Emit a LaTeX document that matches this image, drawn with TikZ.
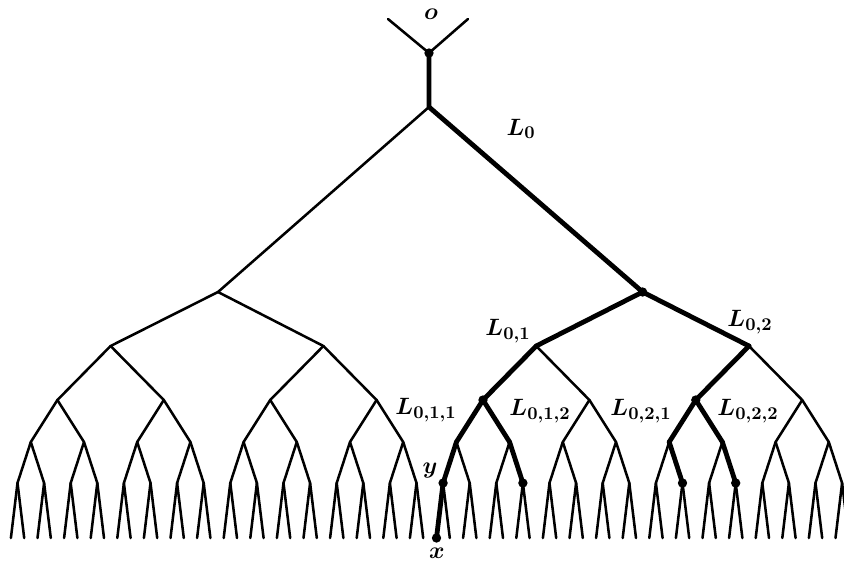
\documentclass[tikz,border=0pt]{standalone}
\usepackage{bm}
\newcommand{\lbl}[1]{\scalebox{1.23}{$\bm{#1}$}}
\begin{document}
\begin{tikzpicture}[x=0.75pt,y=-0.75pt,
  edge/.style={line width=1.9pt, line cap=round, line join=round},
  heavy/.style={line width=3.6pt, line cap=round, line join=round},
  dot/.style={circle, fill=black, inner sep=0pt, minimum size=7pt},
  lab/.style={font=\fontsize{15}{18}\selectfont, inner sep=0pt}]
\useasboundingbox (0,0) rectangle (844,561);
\clip (0,0) rectangle (844,561);
% positions
\coordinate (o) at (429,53);
\coordinate (a1) at (388,19);
\coordinate (a2) at (468,19);
\coordinate (n0-0) at (429,107);
\coordinate (n1-0) at (218,292);
\coordinate (n1-1) at (642.6,292);
\foreach \i in {0,...,3} \coordinate (n2-\i) at ({110.6+212.8*\i},346);
\foreach \i in {0,...,7} \coordinate (n3-\i) at ({57.4+106.4*\i},400);
\foreach \i in {0,...,15} \coordinate (n4-\i) at ({30.8+53.2*\i},442);
\foreach \i in {0,...,31} \coordinate (n5-\i) at ({17.5+26.6*\i},483);
\foreach \i in {0,...,63} \coordinate (n6-\i) at ({10.9+13.3*\i},538);
% thin edges
\draw[edge] (o) -- (a1);
\draw[edge] (o) -- (a2);
\draw[edge] (n0-0) -- (n1-0);
\draw[edge] (n0-0) -- (n1-1);
\foreach \l/\m/\n in {2/1/3,3/2/7,4/3/15,5/4/31,6/5/63}{
  \foreach \i in {0,...,\n}{
    \pgfmathtruncatemacro\p{floor(\i/2)}
    \draw[edge] (n\m-\p) -- (n\l-\i);
  }
}
% heavy path
\draw[heavy] (o) -- (n0-0) -- (n1-1);
\draw[heavy] (n2-2) -- (n1-1) -- (n2-3);
\draw[heavy] (n2-2) -- (n3-4);
\draw[heavy] (n2-3) -- (n3-6);
\draw[heavy] (n4-8) -- (n3-4) -- (n4-9);
\draw[heavy] (n4-12) -- (n3-6) -- (n4-13);
\draw[heavy] (n4-8) -- (n5-16) -- (n6-32);
\draw[heavy] (n4-9) -- (n5-19);
\draw[heavy] (n4-12) -- (n5-25);
\draw[heavy] (n4-13) -- (n5-27);
% dots
\node[dot] (d0) at (o) {};
\node[dot] (d1) at (n1-1) {};
\node[dot] (d2) at (n3-4) {};
\node[dot] (d3) at (n3-6) {};
\node[dot] (d4) at (n5-16) {};
\node[dot] (d5) at (n5-19) {};
\node[dot] (d6) at (n5-25) {};
\node[dot] (d7) at (n5-27) {};
\node[dot] (d8) at (n6-32) {};
% labels
\node[lab] (to) at (431,14) {\lbl{o}};
\node[lab] (tL0) at (521,129) {\lbl{L_{0}}};
\node[lab] (tL01) at (508,331) {\lbl{L_{0,1}}};
\node[lab] (tL02) at (750,322) {\lbl{L_{0,2}}};
\node[lab] (tL011) at (426,410) {\lbl{L_{0,1,1}}};
\node[lab] (tL012) at (540,411) {\lbl{L_{0,1,2}}};
\node[lab] (tL021) at (641,411) {\lbl{L_{0,2,1}}};
\node[lab] (tL022) at (748,411) {\lbl{L_{0,2,2}}};
\node[lab] (ty) at (430,471) {\lbl{y}};
\node[lab] (tx) at (437,553) {\lbl{x}};
\end{tikzpicture}
\end{document}
